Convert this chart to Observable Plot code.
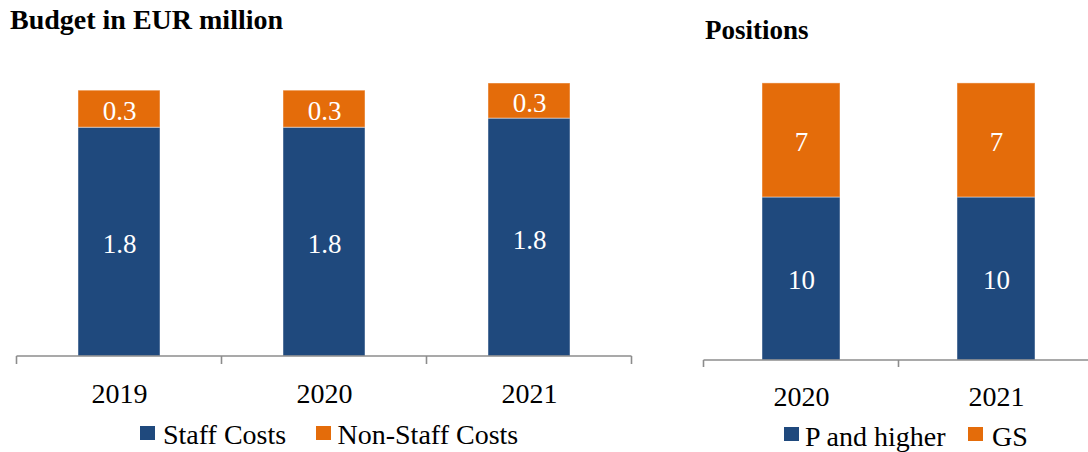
<!DOCTYPE html>
<html>
<head>
<meta charset="utf-8">
<script src="https://cdn.jsdelivr.net/npm/d3@7"></script>
<script src="https://cdn.jsdelivr.net/npm/@observablehq/plot@0.6"></script>
<style>
  html, body { margin: 0; padding: 0; background: #fff; }
  #root { position: relative; width: 1088px; height: 452px; overflow: hidden; font-family: "Liberation Serif", "Times New Roman", serif; color: #000; }
  .abs { position: absolute; white-space: nowrap; line-height: 1; }
  .title { font-weight: bold; }
  .sw { position: absolute; width: 15px; height: 14px; }
</style>
</head>
<body>
<div id="root"></div>
<script>
// ---- Data ----
const budgetYears = ["2019", "2020", "2021"];
const staffCosts = [1.76, 1.76, 1.83];
const nonStaffCosts = [0.285, 0.285, 0.27];
const budgetSeries = ["Staff Costs", "Non-Staff Costs"];

const positionYears = ["2020", "2021"];
const pAndHigher = [10, 10];
const gsPositions = [7, 7];
const positionSeries = ["P and higher", "GS"];

const seriesColors = ["#1F497D", "#E46C0A"];
const FONT = "Liberation Serif, Times New Roman, serif";

const budgetData = [];
budgetYears.forEach((yr, i) => {
  budgetData.push({year: yr, series: budgetSeries[0], value: staffCosts[i], label: staffCosts[i].toFixed(1)});
  budgetData.push({year: yr, series: budgetSeries[1], value: nonStaffCosts[i], label: nonStaffCosts[i].toFixed(1)});
});
const positionData = [];
positionYears.forEach((yr, i) => {
  positionData.push({year: yr, series: positionSeries[0], value: pAndHigher[i], label: String(pAndHigher[i])});
  positionData.push({year: yr, series: positionSeries[1], value: gsPositions[i], label: String(gsPositions[i])});
});

// axis line with tick marks at band boundaries, derived from the scales
function bandAxis(len, color) {
  return (index, scales) => {
    const x = scales.x;
    const dom = x.domain();
    const bw = typeof x.bandwidth === "function" ? x.bandwidth() : x.bandwidth;
    const xs = dom.map(d => x(d));
    const step = xs.length > 1 ? xs[1] - xs[0] : bw;
    const gap = (step - bw) / 2;
    const bounds = xs.map(v => v - gap).concat([xs[xs.length - 1] + bw + gap]);
    const y0 = scales.y(0);
    const g = d3.create("svg:g").attr("stroke", color).attr("stroke-width", 1.6).attr("fill", "none");
    g.append("line").attr("x1", bounds[0]).attr("x2", bounds[bounds.length - 1]).attr("y1", y0).attr("y2", y0);
    bounds.forEach(b => g.append("line").attr("x1", b).attr("x2", b).attr("y1", y0).attr("y2", y0 + len));
    return g.node();
  };
}

function stackedChart({data, years, series, width, height, marginLeft, marginRight, marginTop, marginBottom, yMax, tickLen, yearDy, labelSize, labelDy}) {
  return Plot.plot({
    width, height, marginLeft, marginRight, marginTop, marginBottom,
    style: {fontFamily: FONT, background: "transparent", overflow: "visible"},
    x: {type: "band", domain: years, paddingInner: 0.6, paddingOuter: 0.3, axis: null},
    y: {domain: [0, yMax], axis: null},
    color: {domain: series, range: seriesColors},
    marks: [
      Plot.barY(data, Plot.stackY({x: "year", y: "value", z: "series", fill: "series", order: series,
        stroke: "white", strokeWidth: 1, strokeOpacity: 0.45})),
      Plot.text(data, Plot.stackY({x: "year", y: "value", z: "series", order: series, text: "label",
        fill: "white", fontSize: labelSize, fontFamily: FONT, lineAnchor: "middle", dy: labelDy})),
      bandAxis(tickLen, "#8c8c8c"),
      Plot.text(years, {x: d => d, frameAnchor: "bottom", lineAnchor: "middle", dy: yearDy,
        text: d => d, fill: "black", fontSize: 28, fontFamily: FONT})
    ]
  });
}

const root = document.getElementById("root");

// Left chart: budget
const left = stackedChart({
  data: budgetData, years: budgetYears, series: budgetSeries,
  width: 640, height: 452, marginLeft: 16, marginRight: 8, marginTop: 57, marginBottom: 96,
  yMax: 2.3, tickLen: 8, yearDy: 38, labelSize: 27, labelDy: 2.5
});
left.style.position = "absolute"; left.style.left = "0px"; left.style.top = "0px";
root.appendChild(left);

// Right chart: positions
const right = stackedChart({
  data: positionData, years: positionYears, series: positionSeries,
  width: 410, height: 452, marginLeft: 18, marginRight: 2, marginTop: 34, marginBottom: 92,
  yMax: 20, tickLen: 7, yearDy: 36.5, labelSize: 27, labelDy: 1.5
});
right.style.position = "absolute"; right.style.left = "685px"; right.style.top = "0px";
root.appendChild(right);

// Titles and legends (HTML)
function addText(txt, left, top, size, cls) {
  const d = document.createElement("div");
  d.className = "abs " + (cls || "");
  d.style.left = left + "px"; d.style.top = top + "px"; d.style.fontSize = size + "px";
  d.textContent = txt;
  root.appendChild(d);
}
function addSwatch(color, left, top) {
  const s = document.createElement("div");
  s.className = "sw";
  s.style.left = left + "px"; s.style.top = top + "px"; s.style.background = color;
  root.appendChild(s);
}

addText("Budget in EUR million", 10, 5.5, 28, "title");
addText("Positions", 705, 16.5, 27, "title");

addSwatch(seriesColors[0], 140, 426);
addText(budgetSeries[0], 163, 420.5, 28);
addSwatch(seriesColors[1], 316, 426);
addText(budgetSeries[1], 337.5, 420.5, 28);

addSwatch(seriesColors[0], 784, 427);
addText(positionSeries[0], 805, 422.5, 28);
addSwatch(seriesColors[1], 968, 427);
addText(positionSeries[1], 992, 422.5, 28);
</script>
</body>
</html>
